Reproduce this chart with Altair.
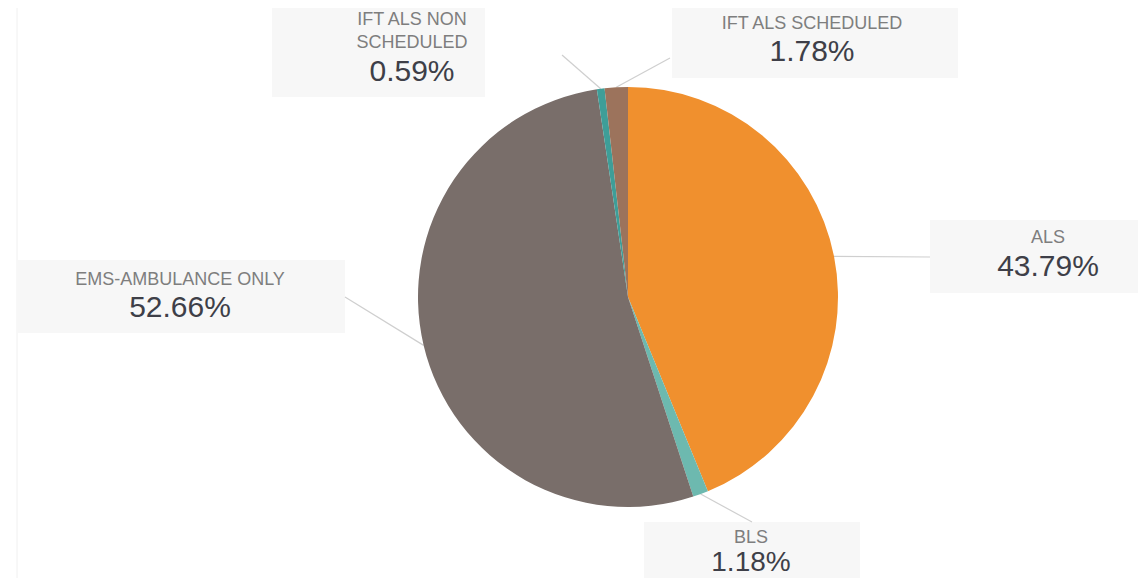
import altair as alt
import pandas as pd

# ---- data ----
categories = ["ALS", "BLS", "EMS-AMBULANCE ONLY", "IFT ALS NON SCHEDULED", "IFT ALS SCHEDULED"]
display_names = ["ALS", "BLS", "EMS-AMBULANCE ONLY", "IFT ALS NON\nSCHEDULED", "IFT ALS SCHEDULED"]
shares = [43.79, 1.18, 52.66, 0.59, 1.78]
colors = ["#F0902E", "#6DB9AF", "#796E6A", "#3E9E98", "#9C735C"]

# ---- layout (chart pixel space) ----
CX, CY, R = 620, 289, 210
box_x0 = [922, 636, 10, 264, 664]
box_x1 = [1138, 852, 337, 477, 950]
box_y0 = [212, 514, 252, -8, -1]
box_y1 = [285, 578, 325, 89, 70]
text_x = [1040, 743, 172, 404, 804]
name_y = [230, 530, 272, 12, 16]
pct_y = [259, 555, 300, 64, 44]
pct_size = [30, 28, 30, 30, 30]
end_x = [922, 744, 337, 554, 662]
end_y = [249, 514, 289, 47, 50]

df = pd.DataFrame({
    "category": categories,
    "name": display_names,
    "share": shares,
    "order": list(range(len(categories))),
    "bx0": box_x0, "bx1": box_x1, "by0": box_y0, "by1": box_y1,
    "tx": text_x, "ny": name_y, "py": pct_y, "ps": pct_size,
    "ex": end_x, "ey": end_y,
})

base = alt.Chart(df)

color_scale = alt.Scale(domain=categories, range=colors)

guide = alt.Chart(pd.DataFrame({"x": [9]})).mark_rule(color="#F0F0F0", strokeWidth=1).encode(
    x=alt.X("x:Q", scale=None), y=alt.value(0), y2=alt.value(570)
)

boxes = base.mark_rect(color="#F7F7F7").encode(
    x=alt.X("bx0:Q", scale=None), x2="bx1:Q",
    y=alt.Y("by0:Q", scale=None), y2="by1:Q",
)

leaders = base.transform_joinaggregate(
    total="sum(share)"
).transform_window(
    cum="sum(share)", sort=[alt.SortField("order")], frame=[None, 0]
).transform_calculate(
    mid="(datum.cum - datum.share / 2) / datum.total * 2 * PI",
).transform_calculate(
    sx=f"{CX} + {R} * sin(datum.mid)",
    sy=f"{CY} - {R} * cos(datum.mid)",
).mark_rule(color="#CFCFCF", strokeWidth=1.2).encode(
    x=alt.X("sx:Q", scale=None), y=alt.Y("sy:Q", scale=None),
    x2="ex:Q", y2="ey:Q",
)

pie = base.mark_arc(radius=R, stroke=None).encode(
    theta=alt.Theta("share:Q", stack=True),
    color=alt.Color("category:N", scale=color_scale, legend=None),
    order=alt.Order("order:Q"),
    x=alt.value(CX), y=alt.value(CY),
)

names = base.mark_text(
    font="Liberation Sans", fontSize=18, color="#7E7E7E",
    align="center", baseline="middle", lineBreak="\n", lineHeight=23,
).encode(
    x=alt.X("tx:Q", scale=None), y=alt.Y("ny:Q", scale=None), text="name:N"
)

pcts = base.transform_calculate(
    label="format(datum.share, '.2f') + '%'"
).mark_text(
    font="Liberation Sans", color="#3E3F48",
    align="center", baseline="middle",
).encode(
    x=alt.X("tx:Q", scale=None), y=alt.Y("py:Q", scale=None), text="label:N",
    size=alt.Size("ps:Q", scale=None, legend=None),
)

chart = alt.layer(guide, boxes, leaders, pie, names, pcts).properties(
    width=1130, height=570,
    autosize=alt.AutoSizeParams(type="none"),
    padding=0,
    background="white",
).configure_view(stroke=None)

chart.save("out.html", embed_options={"renderer": "svg", "actions": False})
